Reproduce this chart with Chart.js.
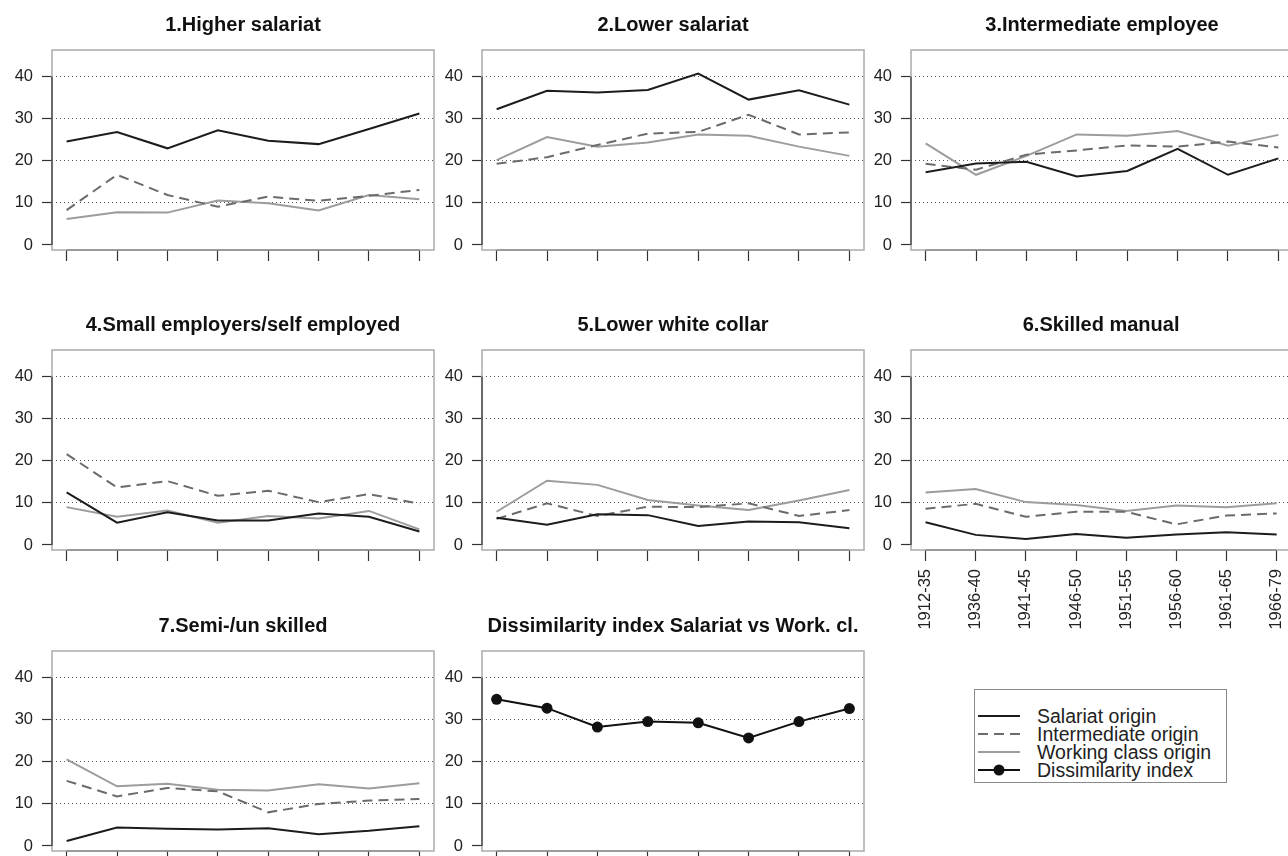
<!DOCTYPE html>
<html>
<head>
<meta charset="utf-8">
<script src="https://cdn.jsdelivr.net/npm/chart.js@4.4.1/dist/chart.umd.min.js"></script>
<style>
html,body{margin:0;padding:0;background:#fff;overflow:hidden;width:1288px;height:856px;position:relative;}
canvas{position:absolute;}
#legend{position:absolute;left:974px;top:689px;width:253px;height:94px;border:1px solid #8a8a8a;box-sizing:border-box;font-family:"Liberation Sans",Arial,sans-serif;font-size:19.5px;color:#222;}
#legend .item{position:absolute;left:0;width:250px;height:20px;}
#legend svg{position:absolute;left:3px;top:0;}
#legend span{position:absolute;left:62px;top:0;line-height:20px;white-space:nowrap;}
</style>
</head>
<body>
<div id="legend"></div>
<script>
// ---------- data ----------
const periods = ['1912-35','1936-40','1941-45','1946-50','1951-55','1956-60','1961-65','1966-79'];
const yTicks = [0, 10, 20, 30, 40];
const seriesNames = ['Salariat origin', 'Intermediate origin', 'Working class origin', 'Dissimilarity index'];
const titles = ['1.Higher salariat', '2.Lower salariat', '3.Intermediate employee',
  '4.Small employers/self employed', '5.Lower white collar', '6.Skilled manual',
  '7.Semi-/un skilled', 'Dissimilarity index Salariat vs Work. cl.'];

const sal1 = [24.6, 26.9, 23.0, 27.3, 24.8, 24.0, 27.6, 31.3];
const int1 = [8.3, 16.7, 11.9, 9.1, 11.5, 10.5, 11.7, 13.1];
const wrk1 = [6.2, 7.8, 7.7, 10.6, 9.9, 8.2, 11.9, 10.9];

const sal2 = [32.3, 36.7, 36.3, 36.9, 40.8, 34.6, 36.8, 33.4];
const int2 = [19.3, 20.9, 23.8, 26.5, 26.9, 31.0, 26.3, 26.8];
const wrk2 = [20.2, 25.7, 23.4, 24.4, 26.3, 26.0, 23.4, 21.2];

const sal3 = [17.3, 19.4, 19.8, 16.3, 17.6, 22.9, 16.7, 20.6];
const int3 = [19.3, 17.9, 21.5, 22.5, 23.7, 23.4, 24.6, 23.2];
const wrk3 = [24.2, 16.7, 21.2, 26.3, 26.0, 27.1, 23.6, 26.2];

const sal4 = [12.5, 5.3, 7.8, 5.8, 5.8, 7.5, 6.7, 3.2];
const int4 = [21.6, 13.7, 15.2, 11.7, 12.9, 10.2, 12.1, 9.8];
const wrk4 = [9.0, 6.7, 8.2, 5.3, 6.9, 6.3, 8.1, 3.7];

const sal5 = [6.5, 4.8, 7.3, 7.1, 4.5, 5.6, 5.4, 4.0];
const int5 = [6.2, 9.9, 6.9, 9.1, 9.0, 9.9, 6.9, 8.3];
const wrk5 = [7.9, 15.3, 14.3, 10.7, 9.4, 8.3, 10.6, 13.1];

const sal6 = [5.4, 2.4, 1.4, 2.6, 1.7, 2.5, 3.0, 2.5];
const int6 = [8.6, 9.8, 6.7, 7.9, 7.9, 4.9, 7.0, 7.5];
const wrk6 = [12.5, 13.3, 10.2, 9.5, 8.1, 9.4, 9.0, 9.9];

const sal7 = [1.2, 4.4, 4.1, 3.9, 4.2, 2.8, 3.6, 4.7];
const int7 = [15.5, 11.8, 13.8, 13.0, 8.0, 10.0, 10.8, 11.2];
const wrk7 = [20.6, 14.2, 14.8, 13.4, 13.2, 14.7, 13.7, 14.9];

const dissim = [34.9, 32.8, 28.3, 29.6, 29.3, 25.7, 29.6, 32.7];

// ---------- layout / style ----------
const FONT = '"Liberation Sans", Arial, sans-serif';
const CANVAS_LEFT = [0, 430, 859];
const ROW_TOP = [0, 300, 601];
const YAXIS_W = 52, BOX_W = 382, RIGHT_PAD = 12, TITLE_H = 50, BOX_H = 200;
const STYLES = [
  {color: '#1c1c1c', dash: [], width: 2, radius: 0},
  {color: '#6b6b6b', dash: [10, 6], width: 2, radius: 0},
  {color: '#9c9c9c', dash: [], width: 2, radius: 0},
  {color: '#111111', dash: [], width: 2, radius: 5.5}
];

const panels = [
  {title: titles[0], series: [sal1, int1, wrk1], styles: [0, 1, 2], col: 0, row: 0},
  {title: titles[1], series: [sal2, int2, wrk2], styles: [0, 1, 2], col: 1, row: 0},
  {title: titles[2], series: [sal3, int3, wrk3], styles: [0, 1, 2], col: 2, row: 0},
  {title: titles[3], series: [sal4, int4, wrk4], styles: [0, 1, 2], col: 0, row: 1},
  {title: titles[4], series: [sal5, int5, wrk5], styles: [0, 1, 2], col: 1, row: 1},
  {title: titles[5], series: [sal6, int6, wrk6], styles: [0, 1, 2], col: 2, row: 1, labels: true},
  {title: titles[6], series: [sal7, int7, wrk7], styles: [0, 1, 2], col: 0, row: 2},
  {title: titles[7], series: [dissim], styles: [3], col: 1, row: 2}
];

// R-like frame: light box + axis lines restricted to the tick range
const rFrame = {
  id: 'rFrame',
  beforeDatasetsDraw(chart) {
    const {ctx, chartArea: a, scales} = chart;
    const x = scales.x, y = scales.y;
    ctx.save();
    ctx.strokeStyle = '#ababab';
    ctx.lineWidth = 1.5;
    ctx.strokeRect(a.left, a.top, a.right - a.left, a.bottom - a.top);
    ctx.strokeStyle = '#333';
    ctx.lineWidth = 1.2;
    ctx.beginPath();
    ctx.moveTo(a.left, y.getPixelForValue(yTicks[0]));
    ctx.lineTo(a.left, y.getPixelForValue(yTicks[yTicks.length - 1]));
    ctx.stroke();
    ctx.strokeStyle = '#777';
    ctx.beginPath();
    ctx.moveTo(x.getPixelForValue(0), a.bottom);
    ctx.lineTo(x.getPixelForValue(periods.length - 1), a.bottom);
    ctx.stroke();
    ctx.restore();
  }
};

function makePanel(p) {
  const cv = document.createElement('canvas');
  const H = p.labels ? 345 : 275;
  const W = YAXIS_W + BOX_W + RIGHT_PAD;
  cv.width = W; cv.height = H;
  cv.style.width = W + 'px'; cv.style.height = H + 'px';
  cv.style.left = CANVAS_LEFT[p.col] + 'px';
  cv.style.top = ROW_TOP[p.row] + 'px';
  document.body.appendChild(cv);

  const datasets = p.series.map((vals, k) => {
    const st = STYLES[p.styles[k]];
    return {
      label: seriesNames[p.styles[k]],
      data: vals.map((v, i) => ({x: i, y: v})),
      borderColor: st.color,
      backgroundColor: st.color,
      borderWidth: st.width,
      borderDash: st.dash,
      pointRadius: st.radius,
      pointBackgroundColor: st.color,
      pointBorderWidth: 0,
      tension: 0,
      fill: false
    };
  });

  new Chart(cv, {
    type: 'line',
    data: {datasets},
    options: {
      responsive: false,
      animation: false,
      devicePixelRatio: 1,
      layout: {padding: {left: 0, right: RIGHT_PAD, top: 0, bottom: 0}},
      plugins: {
        legend: {display: false},
        tooltip: {enabled: false},
        title: {
          display: true, text: p.title, fullSize: false,
          font: {family: FONT, size: 20, weight: 'bold', lineHeight: 1.2},
          color: '#111', padding: {top: 13, bottom: 13}
        }
      },
      scales: {
        x: {
          type: 'linear', min: -0.29, max: periods.length - 1 + 0.29,
          afterBuildTicks: s => { s.ticks = periods.map((_, i) => ({value: i})); },
          afterFit: s => { s.height = H - TITLE_H - BOX_H; },
          grid: {drawOnChartArea: false, drawTicks: true, tickLength: 11, tickColor: '#333', tickWidth: 1.2},
          border: {display: false},
          ticks: {
            display: !!p.labels, autoSkip: false, minRotation: 90, maxRotation: 90, padding: 8,
            font: {family: FONT, size: 16.5}, color: '#222',
            callback: v => periods[v]
          }
        },
        y: {
          min: -1.2, max: 46.4,
          afterBuildTicks: s => { s.ticks = yTicks.map(v => ({value: v})); },
          afterFit: s => { s.width = YAXIS_W; },
          grid: {
            color: c => (c.tick && c.tick.value === 0) ? 'rgba(0,0,0,0)' : '#555',
            lineWidth: 1, drawTicks: true, tickLength: 10, tickColor: '#333', tickWidth: 1.2
          },
          border: {display: false, dash: [1, 3]},
          ticks: {padding: 9, font: {family: FONT, size: 16.5}, color: '#222'}
        }
      }
    },
    plugins: [rFrame]
  });
}

panels.forEach(makePanel);

// ---------- legend ----------
const legend = document.getElementById('legend');
const legendTops = [16, 34, 52, 70];
seriesNames.forEach((name, k) => {
  const st = STYLES[k];
  const item = document.createElement('div');
  item.className = 'item';
  item.style.top = legendTops[k] + 'px';
  const dash = st.dash.length ? ' stroke-dasharray="' + st.dash.join(' ') + '"' : '';
  const dot = st.radius ? '<circle cx="21" cy="10" r="' + st.radius + '" fill="' + st.color + '"/>' : '';
  item.innerHTML = '<svg width="42" height="20"><line x1="0" y1="10" x2="42" y2="10" stroke="' + st.color +
    '" stroke-width="' + st.width + '"' + dash + '/>' + dot + '</svg><span>' + name + '</span>';
  legend.appendChild(item);
});
</script>
</body>
</html>
